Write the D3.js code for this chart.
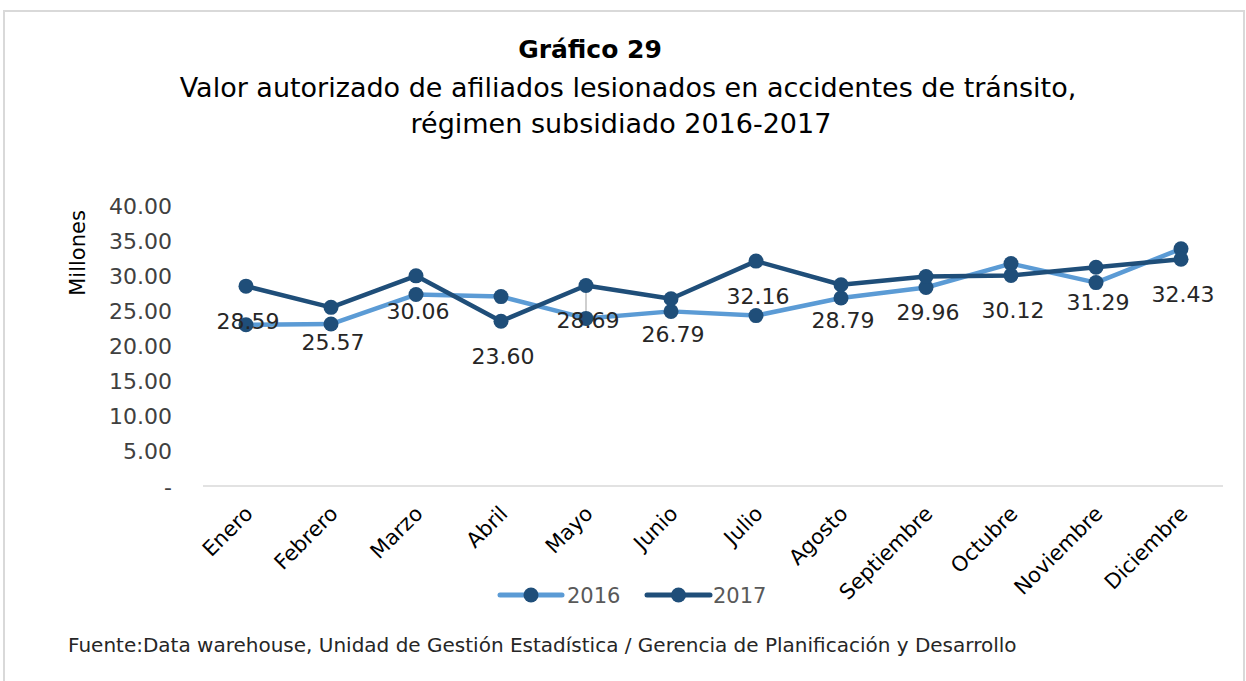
<!DOCTYPE html>
<html>
<head>
<meta charset="utf-8">
<script src="https://cdn.jsdelivr.net/npm/d3@7"></script>
<style>
  body { margin: 0; background: #fff; }
  text { font-family: "DejaVu Sans", sans-serif; }
</style>
</head>
<body>
<div id="chart"></div>
<script>
// datos del gráfico (millones)
const meses = ["Enero", "Febrero", "Marzo", "Abril", "Mayo", "Junio", "Julio", "Agosto", "Septiembre", "Octubre", "Noviembre", "Diciembre"];
const valores2016 = [23.1, 23.2, 27.4, 27.1, 24.0, 25.0, 24.4, 26.9, 28.4, 31.8, 29.1, 33.9];
const valores2017 = [28.59, 25.57, 30.06, 23.60, 28.69, 26.79, 32.16, 28.79, 29.96, 30.12, 31.29, 32.43];
const yTicks = [0, 5, 10, 15, 20, 25, 30, 35, 40];
const series = [
    { name: "2016", values: valores2016, color: "#5B9BD5" },
    { name: "2017", values: valores2017, color: "#1F4E79" }
];
const titulo = "Gráfico 29";
const subtitulo = ["Valor autorizado de afiliados lesionados en accidentes de tránsito,", "régimen subsidiado 2016-2017"];
const fuente = "Fuente:Data warehouse, Unidad de Gestión Estadística / Gerencia de Planificación y Desarrollo";

const width = 1246, height = 681;
const markerColor = "#1F4E79";

const svg = d3.select("#chart").append("svg")
    .attr("width", width)
    .attr("height", height);

// marco
svg.append("rect")
    .attr("x", 4).attr("y", 11)
    .attr("width", 1240).attr("height", 700)
    .attr("fill", "none")
    .attr("stroke", "#D9D9D9")
    .attr("stroke-width", 2);

// títulos
svg.append("text")
    .attr("x", 590).attr("y", 58)
    .attr("text-anchor", "middle")
    .style("font-size", "25px")
    .style("font-weight", "bold")
    .attr("fill", "#000")
    .text(titulo);

svg.selectAll(".sub")
    .data(subtitulo)
    .enter().append("text")
    .attr("class", "sub")
    .attr("x", (d, i) => i === 0 ? 628 : 621)
    .attr("y", (d, i) => 97 + i * 36)
    .attr("text-anchor", "middle")
    .style("font-size", "27px")
    .attr("fill", "#000")
    .text(d => d);

const x = d3.scalePoint()
    .domain(meses)
    .range([246, 1181]);

const y = d3.scaleLinear()
    .domain([0, 40])
    .range([487, 206]);

// eje x (solo línea)
svg.append("line")
    .attr("x1", 203).attr("x2", 1223)
    .attr("y1", y(0) - 1).attr("y2", y(0) - 1)
    .attr("stroke", "#D9D9D9")
    .attr("stroke-width", 1.5);

// eje y
const yAxis = svg.append("g")
    .attr("transform", "translate(172,0)")
    .call(d3.axisLeft(y).tickValues(yTicks).tickSize(0).tickPadding(0)
        .tickFormat(d => d === 0 ? "-" : d3.format(".2f")(d)));
yAxis.select(".domain").remove();
yAxis.selectAll("text")
    .style("font-family", "DejaVu Sans, sans-serif")
    .style("font-size", "22px")
    .attr("fill", "#404040");

svg.append("text")
    .attr("transform", "translate(85,253) rotate(-90)")
    .attr("text-anchor", "middle")
    .style("font-size", "21px")
    .attr("fill", "#000")
    .text("Millones");

// etiquetas de meses
svg.selectAll(".mes")
    .data(meses)
    .enter().append("text")
    .attr("class", "mes")
    .attr("transform", d => `translate(${x(d) + 8},${515}) rotate(-45)`)
    .attr("text-anchor", "end")
    .style("font-size", "21px")
    .attr("fill", "#000")
    .text(d => d);

// línea vertical gris en mayo
const iMayo = meses.indexOf("Mayo");
svg.append("line")
    .attr("x1", x("Mayo")).attr("x2", x("Mayo"))
    .attr("y1", y(valores2017[iMayo])).attr("y2", y(valores2016[iMayo]))
    .attr("stroke", "#BFBFBF")
    .attr("stroke-width", 1.5);

const line = d3.line()
    .x((d, i) => x(meses[i]))
    .y(d => y(d));

series.forEach(s => {
    svg.append("path")
        .datum(s.values)
        .attr("fill", "none")
        .attr("stroke", s.color)
        .attr("stroke-width", 4.5)
        .attr("stroke-linejoin", "round")
        .attr("d", line);

    svg.selectAll(null)
        .data(s.values)
        .enter().append("circle")
        .attr("cx", (d, i) => x(meses[i]))
        .attr("cy", d => y(d))
        .attr("r", 7.5)
        .attr("fill", markerColor);
});

// etiquetas de datos 2017
svg.selectAll(".etq")
    .data(valores2017)
    .enter().append("text")
    .attr("class", "etq")
    .attr("x", (d, i) => x(meses[i]) + 2)
    .attr("y", d => y(d) + 43)
    .attr("text-anchor", "middle")
    .style("font-size", "22px")
    .attr("fill", "#262626")
    .text(d => d3.format(".2f")(d));

// leyenda
const legend = svg.append("g");
const legendItems = [
    { s: series[0], x1: 500, x2: 562, tx: 567 },
    { s: series[1], x1: 647, x2: 710, tx: 713 }
];
legendItems.forEach(it => {
    legend.append("line")
        .attr("x1", it.x1).attr("x2", it.x2)
        .attr("y1", 595).attr("y2", 595)
        .attr("stroke", it.s.color)
        .attr("stroke-width", 5)
        .attr("stroke-linecap", "round");
    legend.append("circle")
        .attr("cx", (it.x1 + it.x2) / 2)
        .attr("cy", 595)
        .attr("r", 7.5)
        .attr("fill", markerColor);
    legend.append("text")
        .attr("x", it.tx).attr("y", 603)
        .style("font-size", "21px")
        .attr("fill", "#595959")
        .text(it.s.name);
});

// fuente
svg.append("text")
    .attr("x", 68).attr("y", 652)
    .style("font-size", "20px")
    .attr("fill", "#262626")
    .text(fuente);
</script>
</body>
</html>
